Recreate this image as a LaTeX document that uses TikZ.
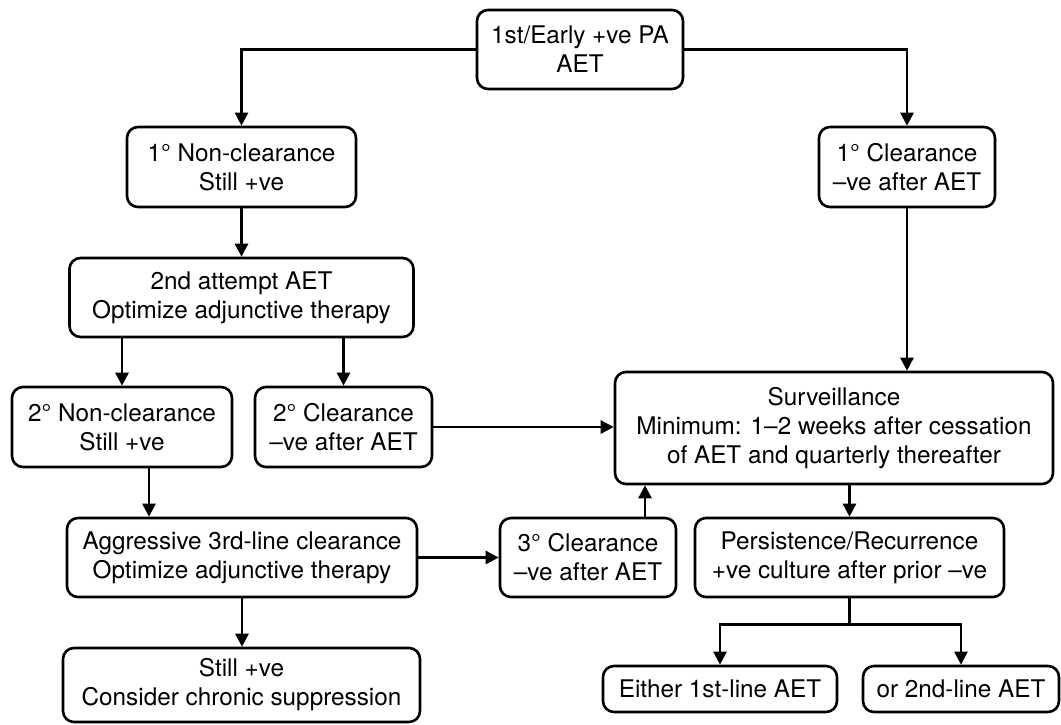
\documentclass[tikz,border=0pt]{standalone}
\usepackage{fontspec}
\setmainfont{TeX Gyre Heros}
\usetikzlibrary{arrows.meta,calc}
\begin{document}
\begin{tikzpicture}[x=1pt,y=-1pt,
  box/.style={draw, line width=2.6pt, rounded corners=11pt, align=center, inner sep=0pt, font=\fontsize{24.3}{29}\selectfont},
  arr/.style={line width=2.6pt, -{Triangle[length=13pt,width=13pt]}},
  ln/.style={line width=2.6pt}]
\useasboundingbox[fill=white] (0,0) rectangle (1061,724);
\node[box, minimum width=206pt, minimum height=79pt] (top) at (580,49.5) {1st/Early +ve PA\\AET};
\node[box, minimum width=229pt, minimum height=80pt] (n1) at (241.5,167) {1° Non-clearance\\Still +ve};
\node[box, minimum width=176pt, minimum height=80pt] (c1) at (907,167) {1° Clearance\\–ve after AET};
\node[box, minimum width=344pt, minimum height=79pt] (a2) at (241.5,297.5) {2nd attempt AET\\Optimize adjunctive therapy};
\node[box, minimum width=220pt, minimum height=80pt] (n2) at (122,427) {2° Non-clearance\\Still +ve};
\node[box, minimum width=177pt, minimum height=80pt] (c2) at (343.5,427) {2° Clearance\\–ve after AET};
\node[box, minimum width=438pt, minimum height=112pt] (surv) at (834,428) {Surveillance\\Minimum: 1–2 weeks after cessation\\of AET and quarterly thereafter};
\node[box, minimum width=350pt, minimum height=79pt] (ag) at (242,557.5) {Aggressive 3rd-line clearance\\Optimize adjunctive therapy};
\node[box, minimum width=176pt, minimum height=79pt] (c3) at (588,557.5) {3° Clearance\\–ve after AET};
\node[box, minimum width=309pt, minimum height=79pt] (pers) at (849.5,557.5) {Persistence/Recurrence\\+ve culture after prior –ve};
\node[box, minimum width=357pt, minimum height=74pt] (still) at (241.5,685) {Still +ve\\Consider chronic suppression};
\node[box, minimum width=234pt, minimum height=46pt] (either) at (720,689) {Either 1st-line AET};
\node[box, minimum width=196pt, minimum height=46pt] (or2) at (961,689) {or 2nd-line AET};

\draw[arr] (top.west) -| (n1.north);
\draw[arr] (top.east) -| (c1.north);
\draw[arr] (n1.south) -- (n1.south |- a2.north);
\draw[arr] (a2.south -| n2.north) -- (n2.north);
\draw[arr] (a2.south -| c2.north) -- (c2.north);
\draw[arr] (c2.east) -- (c2.east -| surv.west);
\draw[arr] (c1.south) -- (c1.south |- surv.north);
\path ($(n2.south)+(27,0)$) coordinate (p1);
\draw[arr] (p1) -- (p1 |- ag.north);
\draw[arr] (ag.south) -- (ag.south |- still.north);
\draw[arr] (ag.east) -- (ag.east -| c3.west);
\path ($(c3.north)+(57,0)$) coordinate (p2);
\draw[arr] (p2) -- (p2 |- surv.south);
\draw[arr] (pers.north |- surv.south) -- (pers.north);
\draw[ln] (pers.south) -- ++(0,26) coordinate (br);
\draw[arr] (br) -| (either.north);
\draw[arr] (br) -| (or2.north);
\end{tikzpicture}
\end{document}
